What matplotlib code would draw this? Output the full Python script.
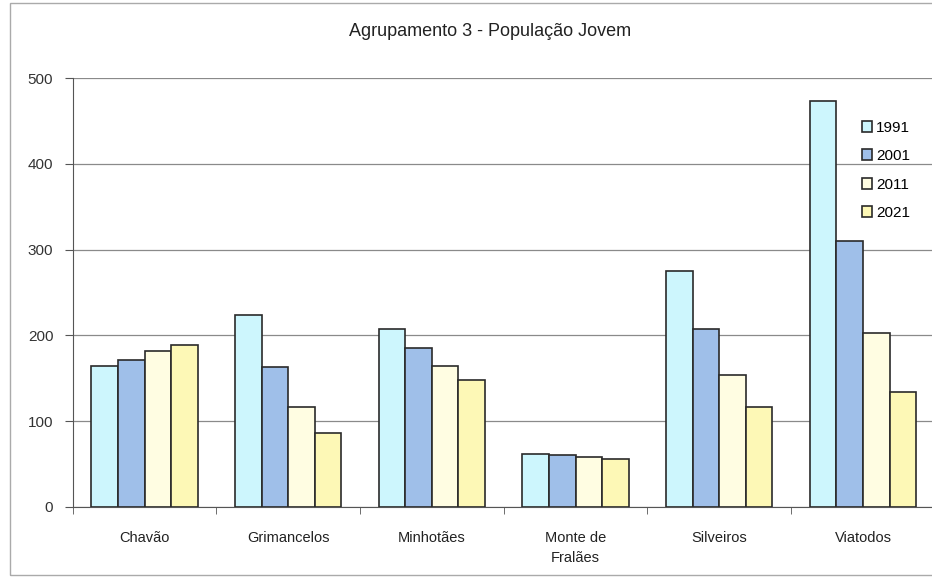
import numpy as np
import matplotlib.pyplot as plt
from matplotlib.patches import Rectangle

plt.rcParams['font.family'] = ['Liberation Sans', 'DejaVu Sans']

places = ['Chavão', 'Grimancelos', 'Minhotães', 'Monte de\nFralães', 'Silveiros', 'Viatodos']
years = ['1991', '2001', '2011', '2021']
pop_1991 = [164, 224, 207, 62, 275, 473]
pop_2001 = [171, 163, 185, 60, 207, 310]
pop_2011 = [182, 117, 164, 58, 154, 203]
pop_2021 = [189, 86, 148, 56, 116, 134]

colors = ['#cdf6fd', '#9fbfe9', '#fffde2', '#fdf8b6']


def main():
    fig = plt.figure(figsize=(9.32, 5.78), dpi=100)
    ax = fig.add_axes([0.078, 0.123, 0.925, 0.742])

    x = np.arange(len(places))
    w = 0.185
    series = [pop_1991, pop_2001, pop_2011, pop_2021]
    for i, vals in enumerate(series):
        ax.bar(x + (i - 1.5) * w, vals, w, color=colors[i], edgecolor='#2a2a2a',
               linewidth=1.2, label=years[i], zorder=3)

    ax.set_xlim(-0.5, len(places) - 0.5)
    ax.set_ylim(0, 500)
    ax.set_yticks(range(0, 501, 100))
    ax.yaxis.grid(True, color='#8a8a8a', linewidth=0.9)
    ax.set_axisbelow(True)
    for s in ['top', 'right']:
        ax.spines[s].set_visible(False)
    ax.spines['left'].set_color('#555555')
    ax.spines['bottom'].set_color('#555555')

    ax.set_xticks(x)
    ax.set_xticklabels(places, fontsize=10.5, color='#222222', linespacing=1.6)
    ax.tick_params(axis='x', length=0, pad=17)
    ax.set_xticks(np.arange(-0.5, len(places), 1), minor=True)
    ax.tick_params(axis='x', which='minor', length=5, color='#555555')
    ax.tick_params(axis='y', labelsize=11, colors='#333333', length=6, pad=8)
    ax.tick_params(axis='y', color='#555555')

    fig.text(0.526, 0.945, 'Agrupamento 3 - População Jovem', ha='center', va='center',
             fontsize=13, color='#222222')

    ax.legend(loc='upper left', bbox_to_anchor=(0.918, 0.802), bbox_transform=fig.transFigure,
              frameon=False, fontsize=11, handlelength=0.7, handleheight=0.7,
              handletextpad=0.25, labelspacing=0.95, borderaxespad=0)

    fig.patches.append(Rectangle((10 / 932, 0.005), 1.0, 0.99, transform=fig.transFigure,
                                 fill=False, edgecolor='#aaaaaa', linewidth=1.0))

    fig.savefig('out.png', dpi=100)


if __name__ == '__main__':
    main()
